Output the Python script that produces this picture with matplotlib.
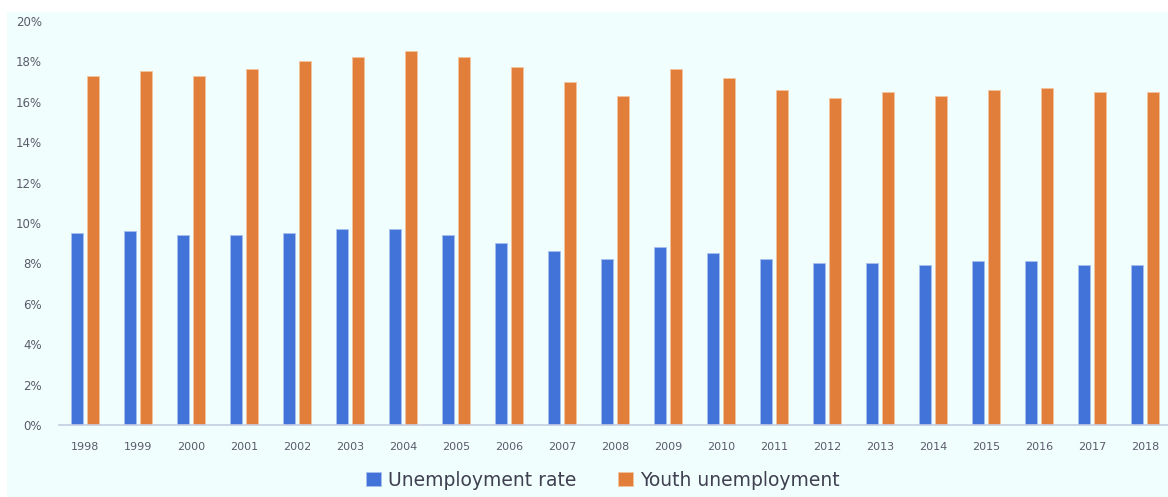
import numpy as np
import matplotlib
matplotlib.use("Agg")
import matplotlib.pyplot as plt
from matplotlib.patches import Rectangle
from matplotlib.ticker import FuncFormatter

years = [str(y) for y in range(1998, 2019)]
unemployment = [9.5, 9.6, 9.4, 9.4, 9.5, 9.7, 9.7, 9.4, 9.0, 8.6, 8.2,
                8.8, 8.5, 8.2, 8.0, 8.0, 7.9, 8.1, 8.1, 7.9, 7.9]
youth = [17.3, 17.5, 17.3, 17.6, 18.0, 18.2, 18.5, 18.2, 17.7, 17.0, 16.3,
         17.6, 17.2, 16.6, 16.2, 16.5, 16.3, 16.6, 16.7, 16.5, 16.5]

BLUE = "#4273d8"
ORANGE = "#e07e3a"
BG = "#f0fefe"
TXT = "#5a5a6a"

fig = plt.figure(figsize=(11.68, 4.97), dpi=100)
fig.patch.set_facecolor("white")
fig.patches.append(Rectangle((7 / 1168, 0), 1 - 7 / 1168, 1 - 12 / 497,
                             transform=fig.transFigure, facecolor=BG,
                             edgecolor="none", zorder=-10))

ax = fig.add_axes([58.5 / 1168, 72 / 497, 1113 / 1168, 404 / 497])
ax.set_facecolor("none")
ax.set_zorder(1)

x = np.arange(len(years))
w = 0.23
ax.bar(x - 0.15, unemployment, w, color=BLUE, edgecolor="#a9c0ee",
       linewidth=0.6, label="Unemployment rate")
ax.bar(x + 0.15, youth, w, color=ORANGE, edgecolor="#f3c49e",
       linewidth=0.6, label="Youth unemployment")

ax.set_xlim(-0.5, len(years) - 0.5)
ax.set_ylim(0, 20)
ax.set_yticks(np.arange(0, 21, 2))
ax.yaxis.set_major_formatter(FuncFormatter(lambda v, p: f"{v:.0f}%"))
ax.set_xticks(x)
ax.set_xticklabels(years)

for s in ["top", "right", "left"]:
    ax.spines[s].set_visible(False)
ax.spines["bottom"].set_color("#c5cde0")
ax.spines["bottom"].set_linewidth(1.2)
ax.tick_params(axis="y", length=0, pad=12, labelsize=8.5, labelcolor=TXT)
ax.tick_params(axis="x", length=0, pad=12, labelsize=8, labelcolor=TXT)

leg = fig.legend(loc="center", bbox_to_anchor=(603 / 1168, 1 - 480 / 497),
                 ncol=2, frameon=False, fontsize=13.5, handlelength=0.8,
                 handleheight=0.8, handletextpad=0.4, columnspacing=2.2,
                 labelcolor="#3f4050")
leg.set_zorder(2)

fig.savefig("out.png", dpi=100)
